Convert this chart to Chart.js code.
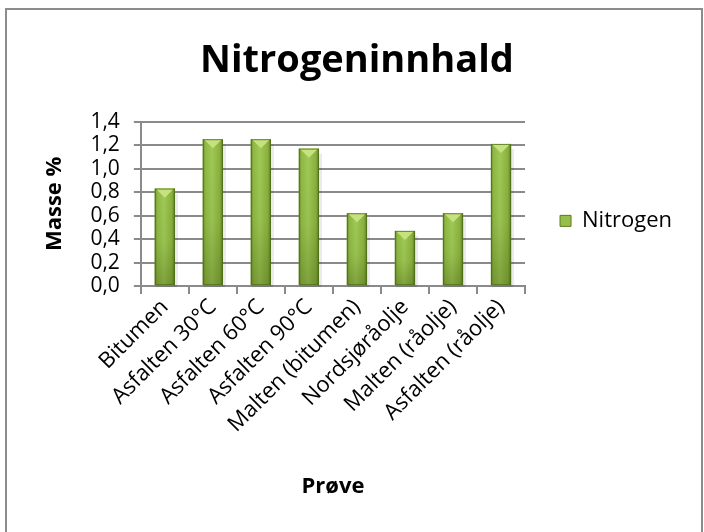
<!DOCTYPE html>
<html>
<head>
<meta charset="utf-8">
<script src="https://cdn.jsdelivr.net/npm/chart.js@4.4.1/dist/chart.umd.min.js"></script>
<style>
    html, body { margin: 0; padding: 0; background: #fff; }
    #wrap { position: relative; width: 704px; height: 532px; }
    #chart { position: absolute; left: 0; top: 0; }
    #frame {
        position: absolute; left: 5px; top: 8px; width: 694px; height: 530px;
        border: 2px solid #8c8c8c; pointer-events: none;
    }
</style>
</head>
<body>
<div id="wrap">
    <canvas id="chart" width="704" height="532"></canvas>
    <div id="frame"></div>
</div>
<script>
// Data
const samples = [
    'Bitumen',
    'Asfalten 30°C',
    'Asfalten 60°C',
    'Asfalten 90°C',
    'Malten (bitumen)',
    'Nordsjøråolje',
    'Malten (råolje)',
    'Asfalten (råolje)'
];
const nitrogen = [0.83, 1.25, 1.25, 1.17, 0.62, 0.47, 0.62, 1.21];
const yTicks = [0, 0.2, 0.4, 0.6, 0.8, 1.0, 1.2, 1.4];

const fontFamily = "'Open Sans', sans-serif";
const gridColor = '#8a8a8a';

/**
 * Paint Excel-like shaded bars over the flat ones
 */
const bevelBars = {
    id: 'bevelBars',
    afterDatasetsDraw(chart) {
        const ctx = chart.ctx;
        const meta = chart.getDatasetMeta(0);
        meta.data.forEach(bar => {
            const left = bar.x - bar.width / 2;
            const right = bar.x + bar.width / 2;
            const top = bar.y;
            const bottom = bar.base;
            const w = right - left;
            const h = bottom - top;

            ctx.save();
            // soft shadow to the right and below
            ctx.fillStyle = 'rgba(0,0,0,0.08)';
            ctx.fillRect(right, top + 5, 3, h - 5);
            ctx.fillStyle = 'rgba(0,0,0,0.12)';
            ctx.fillRect(left + 1, bottom, w + 1, 2);

            // body gradient, dark edges and light middle
            const g = ctx.createLinearGradient(left, 0, right, 0);
            g.addColorStop(0, '#62832a');
            g.addColorStop(0.12, '#8fb843');
            g.addColorStop(0.45, '#a0c955');
            g.addColorStop(0.85, '#89b13e');
            g.addColorStop(1, '#5a7920');
            ctx.fillStyle = g;
            ctx.fillRect(left, top, w, h);

            // darker towards the base
            const v = ctx.createLinearGradient(0, top, 0, bottom);
            v.addColorStop(0, 'rgba(40,60,0,0)');
            v.addColorStop(0.55, 'rgba(40,60,0,0.05)');
            v.addColorStop(1, 'rgba(40,60,0,0.28)');
            ctx.fillStyle = v;
            ctx.fillRect(left, top, w, h);

            // light triangle at the top
            ctx.beginPath();
            ctx.moveTo(left + 1, top);
            ctx.lineTo(right - 1, top);
            ctx.lineTo(bar.x, top + w * 0.45);
            ctx.closePath();
            ctx.fillStyle = '#c6e27f';
            ctx.fill();

            // thin outline
            ctx.strokeStyle = 'rgba(80,110,25,0.8)';
            ctx.lineWidth = 1;
            ctx.strokeRect(left + 0.5, top + 0.5, w - 1, h - 1);
            ctx.restore();
        });
    }
};

new Chart(document.getElementById('chart'), {
    type: 'bar',
    data: {
        labels: samples,
        datasets: [{
            label: 'Nitrogen',
            data: nitrogen,
            backgroundColor: '#95bf4a',
            borderWidth: 0,
            barPercentage: 0.42,
            categoryPercentage: 1.0
        }]
    },
    options: {
        responsive: false,
        animation: false,
        layout: {
            padding: { left: 32, right: 22, top: 18, bottom: 32 }
        },
        plugins: {
            title: {
                display: true,
                text: 'Nitrogeninnhald',
                color: '#000',
                font: { family: fontFamily, size: 38, weight: 'bold' },
                padding: { top: 20, bottom: 38 }
            },
            legend: {
                position: 'right',
                fullSize: false,
                title: {
                    display: true,
                    text: ' ',
                    font: { size: 10 },
                    padding: 11
                },
                labels: {
                    boxWidth: 11,
                    boxHeight: 11,
                    color: '#000',
                    padding: 35,
                    font: { family: fontFamily, size: 22 },
                    generateLabels(chart) {
                        return [{
                            text: 'Nitrogen',
                            fillStyle: '#95bf4a',
                            strokeStyle: '#5b7a22',
                            fontColor: '#000',
                            lineWidth: 1,
                            datasetIndex: 0
                        }];
                    }
                }
            },
            tooltip: { enabled: false }
        },
        scales: {
            x: {
                grid: {
                    display: true,
                    drawOnChartArea: false,
                    drawTicks: true,
                    tickLength: 8,
                    offset: true,
                    color: gridColor,
                    lineWidth: 2
                },
                border: { display: true, color: gridColor, width: 2 },
                ticks: {
                    color: '#000',
                    font: { family: fontFamily, size: 22 },
                    maxRotation: 45,
                    minRotation: 45,
                    autoSkip: false,
                    padding: 0
                },
                title: {
                    display: true,
                    text: 'Prøve',
                    color: '#000',
                    font: { family: fontFamily, size: 22, weight: 'bold' },
                    padding: { top: 36, bottom: 0 }
                }
            },
            y: {
                min: 0,
                max: 1.4,
                afterBuildTicks(axis) {
                    axis.ticks = yTicks.map(v => ({ value: v }));
                },
                grid: {
                    color: gridColor,
                    lineWidth: 2,
                    tickLength: 7
                },
                border: { display: true, color: gridColor, width: 2 },
                ticks: {
                    color: '#000',
                    font: { family: fontFamily, size: 21 },
                    padding: 14,
                    autoSkip: false,
                    callback: v => v.toFixed(1).replace('.', ',')
                },
                title: {
                    display: true,
                    text: 'Masse %',
                    color: '#000',
                    font: { family: fontFamily, size: 22, weight: 'bold' },
                    padding: { top: 10, bottom: 8 }
                }
            }
        }
    },
    plugins: [bevelBars]
});
</script>
</body>
</html>
